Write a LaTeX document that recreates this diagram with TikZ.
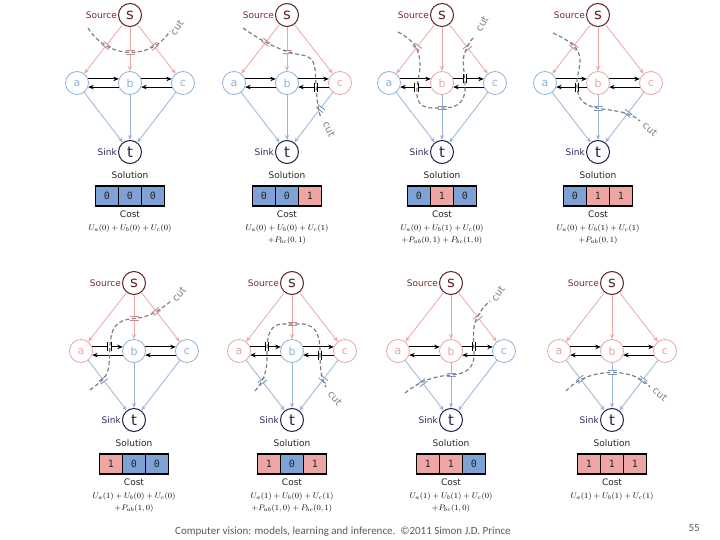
\documentclass[tikz,border=0pt]{standalone}
\usepackage{fontspec}
\usetikzlibrary{arrows.meta,positioning,decorations.markings}
\newfontfamily\dvs{DejaVu Sans}
\newfontfamily\dvm{DejaVu Sans Mono}
\newfontfamily\carl{Carlito}
\definecolor{lab0}{HTML}{8FB2DA}
\definecolor{lab1}{HTML}{E9A5A5}
\definecolor{cell0}{HTML}{7EA1D6}
\definecolor{cell1}{HTML}{F0A5A5}
\definecolor{pinkE}{HTML}{EBA8A8}
\definecolor{blueE}{HTML}{97B5DA}
\definecolor{markpink}{HTML}{C98A8A}
\definecolor{markblue}{HTML}{7A98BE}
\definecolor{srcred}{HTML}{7A2B2B}
\definecolor{sinkblue}{HTML}{2B2B60}
\definecolor{cutgray}{HTML}{808080}
\definecolor{footgray}{HTML}{5A5A5A}
\tikzset{
 every node/.style={font=\dvs\fontsize{9}{10}\selectfont},
 vnode/.style={circle, draw, minimum size=23pt, inner sep=0pt, line width=0.8pt, font=\dvs\fontsize{11}{12}\selectfont},
 snode/.style={circle, draw=srcred!80!black, text=srcred!80!black, minimum size=23pt, inner sep=0pt, line width=1pt, font=\dvs\fontsize{15}{16}\selectfont},
 tnode/.style={circle, draw=sinkblue!80!black, text=sinkblue!80!black, minimum size=23pt, inner sep=0pt, line width=1pt, font=\dvs\fontsize{15}{16}\selectfont},
 srcedge/.style={draw=pinkE, line width=0.8pt, -{Stealth[length=5pt,width=4pt]}},
 snkedge/.style={draw=blueE, line width=0.8pt, -{Stealth[length=5pt,width=4pt]}},
 pairedge/.style={draw=black, line width=1.1pt, -{Stealth[length=5.5pt,width=4.5pt]}},
 cell/.style={draw=black, line width=1.1pt, minimum width=23pt, minimum height=20pt, inner sep=0pt, text=black!85, font=\dvm\fontsize{10}{11}\selectfont},
 cutline/.style={draw=cutgray, line width=1.2pt, dash pattern=on 4pt off 2.5pt},
 cutlab/.style={text=cutgray, font=\dvs\fontsize{10}{11}\selectfont, inner sep=0pt},
 formula/.style={font=\fontsize{8.5}{10}\selectfont, inner sep=0pt},
 lbl/.style={inner sep=0pt}
}
\newcommand\drawpanel[8]{%
\begin{scope}[shift={(#2,#3)}]
 \node[snode] (#1s) at (0,0) {s};
 \node[vnode, draw=lab#4, text=lab#4] (#1a) at (-53,68) {a};
 \node[vnode, draw=lab#5, text=lab#5] (#1b) at (0,68) {b};
 \node[vnode, draw=lab#6, text=lab#6] (#1c) at (53,68) {c};
 \node[tnode] (#1t) at (0,137) {t};
 \node[lbl, text=srcred, left=1pt of #1s] (#1src) {Source};
 \node[lbl, text=sinkblue, left=1pt of #1t] (#1snk) {Sink};
 \draw[srcedge] (#1s) -- (#1a);
 \draw[srcedge] (#1s) -- (#1b);
 \draw[srcedge] (#1s) -- (#1c);
 \draw[snkedge] (#1a) -- (#1t);
 \draw[snkedge] (#1b) -- (#1t);
 \draw[snkedge] (#1c) -- (#1t);
 \draw[pairedge] (#1a.20) -- (#1b.160);
 \draw[pairedge] (#1b.200) -- (#1a.-20);
 \draw[pairedge] (#1b.20) -- (#1c.160);
 \draw[pairedge] (#1c.200) -- (#1b.-20);
 \node[lbl, text=black!85] (#1sol) at (0,160) {Solution};
 \node[cell, fill=cell#4] (#1x1) at (-23,181) {#4};
 \node[cell, fill=cell#5] (#1x2) at (0,181) {#5};
 \node[cell, fill=cell#6] (#1x3) at (23,181) {#6};
 \node[lbl, text=black!85] (#1cost) at (0,199) {Cost};
 \node[formula] (#1f1) at (0,213) {#7};
 \if\relax\detokenize{#8}\relax\else\node[formula] (#1f2) at (0,225) {#8};\fi
\end{scope}}
\newcommand\capon[4]{\path[postaction={decorate,decoration={markings,mark=at position #3 with {\fill[white] (-1.7pt,-3pt) rectangle (1.7pt,3pt); \draw[#4,line width=0.9pt] (-1.7pt,-4.5pt) -- (-1.7pt,4.5pt) (1.7pt,-4.5pt) -- (1.7pt,4.5pt);}}}] (#1) -- (#2);}
\begin{document}
\begin{tikzpicture}[x=1pt,y=-1pt]
\useasboundingbox (0,0) rectangle (720,540);
\fill[white] (0,0) rectangle (720,540);
% Panel 1
\drawpanel{p1}{130}{15}{0}{0}{0}{$U_a(0)+U_b(0)+U_c(0)$}{}
\capon{p1s.center}{p1a.center}{0.45}{markpink}
\capon{p1s.center}{p1b.center}{0.55}{markpink}
\capon{p1s.center}{p1c.center}{0.46}{markpink}
\begin{scope}[shift={(130,15)}]
 \draw[cutline] (-42,13) .. controls (-22,45) and (22,45) .. (40,16);
 \node[cutlab, rotate=55] (p1cut) at (47,13) {cut};
\end{scope}
% Panel 2
\drawpanel{p2}{287}{15}{0}{0}{1}{$U_a(0)+U_b(0)+U_c(1)$}{$+P_{bc}(0,1)$}
\capon{p2s.center}{p2a.center}{0.4}{markpink}
\capon{p2s.center}{p2b.center}{0.54}{markpink}
\capon{p2c.200}{p2b.-20}{0.42}{black}
\capon{p2c.center}{p2t.center}{0.37}{markblue}
\begin{scope}[shift={(287,15)}]
 \draw[cutline] (-44,13) .. controls (-20,30) and (0,38) .. (15,40) .. controls (30,42) and (28,55) .. (29,70) .. controls (30,85) and (31,95) .. (34,103);
 \node[cutlab, rotate=-65] (p2cut) at (42,114) {cut};
\end{scope}
% Panel 3
\drawpanel{p3}{442}{15}{0}{1}{0}{$U_a(0)+U_b(1)+U_c(0)$}{$+P_{ab}(0,1)+P_{bc}(1,0)$}
\capon{p3s.center}{p3a.center}{0.47}{markpink}
\capon{p3s.center}{p3c.center}{0.48}{markpink}
\capon{p3b.200}{p3a.-20}{0.47}{black}
\capon{p3b.20}{p3c.160}{0.38}{black}
\capon{p3b.center}{p3t.center}{0.36}{markblue}
\begin{scope}[shift={(442,15)}]
 \draw[cutline] (-44,17) .. controls (-28,25) and (-22,35) .. (-22,50) .. controls (-22,60) and (-26,70) .. (-25,80) .. controls (-24,95) and (-10,93) .. (0,93) .. controls (12,93) and (22,90) .. (23,75) .. controls (24,60) and (18,45) .. (24,35) .. controls (26,30) and (28,26) .. (32,22);
 \node[cutlab, rotate=60] (p3cut) at (40,9) {cut};
\end{scope}
% Panel 4
\drawpanel{p4}{598}{15}{0}{1}{1}{$U_a(0)+U_b(1)+U_c(1)$}{$+P_{ab}(0,1)$}
\capon{p4s.center}{p4a.center}{0.46}{markpink}
\capon{p4b.200}{p4a.-20}{0.32}{black}
\capon{p4b.center}{p4t.center}{0.37}{markblue}
\capon{p4c.center}{p4t.center}{0.44}{markblue}
\begin{scope}[shift={(598,15)}]
 \draw[cutline] (-45,18) .. controls (-30,25) and (-18,32) .. (-18,45) .. controls (-18,55) and (-22,62) .. (-21,72) .. controls (-20,88) and (-10,92) .. (5,94) .. controls (18,96) and (32,97) .. (42,106);
 \node[cutlab, rotate=-40] (p4cut) at (52,114) {cut};
\end{scope}
% Panel 5
\drawpanel{p5}{134}{283}{1}{0}{0}{$U_a(1)+U_b(0)+U_c(0)$}{$+P_{ab}(1,0)$}
\capon{p5s.center}{p5b.center}{0.52}{markpink}
\capon{p5s.center}{p5c.center}{0.42}{markpink}
\capon{p5a.20}{p5b.160}{0.57}{black}
\capon{p5a.center}{p5t.center}{0.42}{markblue}
\begin{scope}[shift={(134,283)}]
 \draw[cutline] (-44,107) .. controls (-35,100) and (-26,95) .. (-25,82) .. controls (-24,70) and (-25,55) .. (-20,45) .. controls (-14,36) and (-5,36) .. (5,35) .. controls (18,33) and (30,24) .. (37,18);
 \node[cutlab, rotate=50] (p5cut) at (45,11) {cut};
\end{scope}
% Panel 6
\drawpanel{p6}{292}{283}{1}{0}{1}{$U_a(1)+U_b(0)+U_c(1)$}{$+P_{ab}(1,0)+P_{bc}(0,1)$}
\capon{p6s.center}{p6b.center}{0.6}{markpink}
\capon{p6a.20}{p6b.160}{0.54}{black}
\capon{p6c.200}{p6b.-20}{0.45}{black}
\capon{p6a.center}{p6t.center}{0.44}{markblue}
\capon{p6c.center}{p6t.center}{0.41}{markblue}
\begin{scope}[shift={(292,283)}]
 \draw[cutline] (-37,108) .. controls (-30,100) and (-25,90) .. (-25,75) .. controls (-25,60) and (-26,42) .. (-10,41) -- (10,41) .. controls (26,42) and (28,55) .. (28,70) .. controls (28,88) and (30,97) .. (34,104);
 \node[cutlab, rotate=-50] (p6cut) at (43,115) {cut};
\end{scope}
% Panel 7
\drawpanel{p7}{451}{283}{1}{1}{0}{$U_a(1)+U_b(1)+U_c(0)$}{$+P_{bc}(1,0)$}
\capon{p7s.center}{p7c.center}{0.51}{markpink}
\capon{p7b.20}{p7c.160}{0.38}{black}
\capon{p7a.center}{p7t.center}{0.46}{markblue}
\capon{p7b.center}{p7t.center}{0.35}{markblue}
\begin{scope}[shift={(451,283)}]
 \draw[cutline] (-46,110) .. controls (-30,97) and (-15,93) .. (0,92) .. controls (15,91) and (23,85) .. (23,72) .. controls (23,58) and (21,45) .. (25,37) .. controls (29,28) and (34,22) .. (39,18);
 \node[cutlab, rotate=55] (p7cut) at (47,11) {cut};
\end{scope}
% Panel 8
\drawpanel{p8}{612}{283}{1}{1}{1}{$U_a(1)+U_b(1)+U_c(1)$}{}
\capon{p8a.center}{p8t.center}{0.41}{markblue}
\capon{p8b.center}{p8t.center}{0.31}{markblue}
\capon{p8c.center}{p8t.center}{0.42}{markblue}
\begin{scope}[shift={(612,283)}]
 \draw[cutline] (-46,108) .. controls (-25,84) and (22,84) .. (38,104);
 \node[cutlab, rotate=-40] (p8cut) at (48,111) {cut};
\end{scope}
% Footer
\node[anchor=base west, inner sep=0pt, font=\carl\fontsize{11}{13}\selectfont, text=footgray] (foot) at (175,534) {Computer vision: models, learning and inference.\ \ ©2011 Simon J.D. Prince};
\node[anchor=base east, inner sep=0pt, font=\carl\fontsize{11}{13}\selectfont, text=footgray] (pnum) at (700,531) {55};
\end{tikzpicture}
\end{document}
